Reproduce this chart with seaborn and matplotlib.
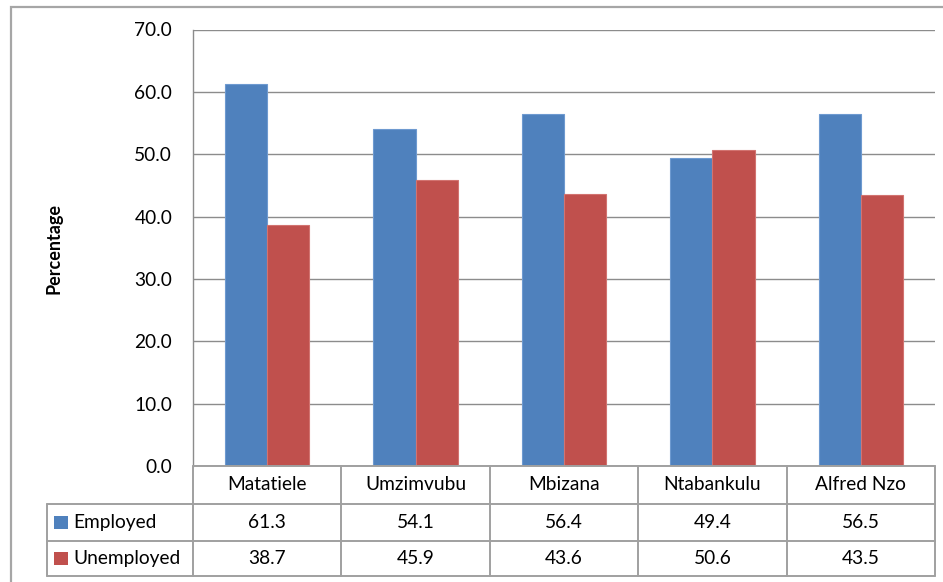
import matplotlib
matplotlib.use("Agg")
import matplotlib.pyplot as plt
import seaborn as sns
import pandas as pd
from matplotlib.patches import Rectangle
from matplotlib.lines import Line2D

# Employment status by local municipality (%)
municipalities = ["Matatiele", "Umzimvubu", "Mbizana", "Ntabankulu", "Alfred Nzo"]
series_names = ["Employed", "Unemployed"]
employed = [61.3, 54.1, 56.4, 49.4, 56.5]
unemployed = [38.7, 45.9, 43.6, 50.6, 43.5]
y_ticks = [0, 10, 20, 30, 40, 50, 60, 70]

colors = {"Employed": "#4F81BD", "Unemployed": "#C0504D"}
edge_colors = {"Employed": "#6E9AD0", "Unemployed": "#D27370"}

df = pd.DataFrame({
    "Municipality": municipalities * 2,
    "Status": [series_names[0]] * len(employed) + [series_names[1]] * len(unemployed),
    "Value": employed + unemployed,
})

sns.set_theme(style="white")
plt.rcParams["font.family"] = ["Lato", "DejaVu Sans"]

W, H = 943, 582
fig = plt.figure(figsize=(W / 100, H / 100), dpi=100)


def fx(px):
    return px / W


def fy(py):
    return 1 - py / H


FS = 13.8

# plot area in pixel coordinates
left, right, top, bottom = 193, 935, 29.5, 466
ax = fig.add_axes([fx(left), fy(bottom), fx(right - left), (bottom - top) / H])

sns.barplot(data=df, x="Municipality", y="Value", hue="Status",
            palette=colors, width=0.57, saturation=1, ax=ax, legend=False)
for container, name in zip(ax.containers, series_names):
    for bar in container:
        bar.set_edgecolor(edge_colors[name])
        bar.set_linewidth(0.8)

ax.set_ylim(0, 70)
ax.set_xlim(-0.5, len(municipalities) - 0.5)
ax.set_yticks(y_ticks)
ax.set_yticklabels([f"{v:.1f}" for v in y_ticks], fontsize=FS, color="#000000")
ax.tick_params(axis="y", length=0, pad=15)
ax.set_xticks([])
ax.set_xlabel("")
ax.set_ylabel("")
ax.yaxis.grid(True, color="#8C8C8C", linewidth=1.0)
ax.set_axisbelow(True)
for side in ["top", "right", "bottom"]:
    ax.spines[side].set_visible(False)
ax.spines["left"].set_color("#8C8C8C")
ax.spines["left"].set_linewidth(1.0)

fig.text(fx(54), fy(248), "Percentage", rotation=90, ha="center", va="center",
         fontsize=13, fontweight="bold", color="#000000")

# outer chart frame
fig.patches.append(Rectangle((fx(11), fy(700)), fx(1000), (700 - 6.5) / H,
                             transform=fig.transFigure, fill=False,
                             edgecolor="#A6A6A6", linewidth=1.6))

# data table below the axis
grid_col = "#A0A0A0"
leg_left = 47
row_y = [466, 504, 541, 576]
col_w = (right - left) / len(municipalities)
col_x = [left + i * col_w for i in range(len(municipalities) + 1)]


def hline(y, x0, x1):
    fig.lines.append(Line2D([fx(x0), fx(x1)], [fy(y), fy(y)], transform=fig.transFigure,
                            color=grid_col, linewidth=1.4))


def vline(x, y0, y1):
    fig.lines.append(Line2D([fx(x), fx(x)], [fy(y0), fy(y1)], transform=fig.transFigure,
                            color=grid_col, linewidth=1.4))


hline(row_y[0], left, right)
for y in row_y[1:]:
    hline(y, leg_left, right)
for x in col_x:
    vline(x, row_y[0], row_y[3])
vline(leg_left, row_y[1], row_y[3])

for i, name in enumerate(municipalities):
    cx = (col_x[i] + col_x[i + 1]) / 2
    fig.text(fx(cx), fy((row_y[0] + row_y[1]) / 2), name, ha="center", va="center",
             fontsize=FS, color="#000000")

for r, (name, vals) in enumerate(zip(series_names, [employed, unemployed])):
    cy = (row_y[r + 1] + row_y[r + 2]) / 2
    fig.patches.append(Rectangle((fx(54), fy(cy + 6.5)), fx(14), 13 / H,
                                 transform=fig.transFigure, facecolor=colors[name],
                                 edgecolor="none"))
    fig.text(fx(73), fy(cy), name, ha="left", va="center", fontsize=FS, color="#000000")
    for i, v in enumerate(vals):
        cx = (col_x[i] + col_x[i + 1]) / 2
        fig.text(fx(cx), fy(cy), f"{v:.1f}", ha="center", va="center",
                 fontsize=FS, color="#000000")

fig.savefig("out.png", dpi=100)
